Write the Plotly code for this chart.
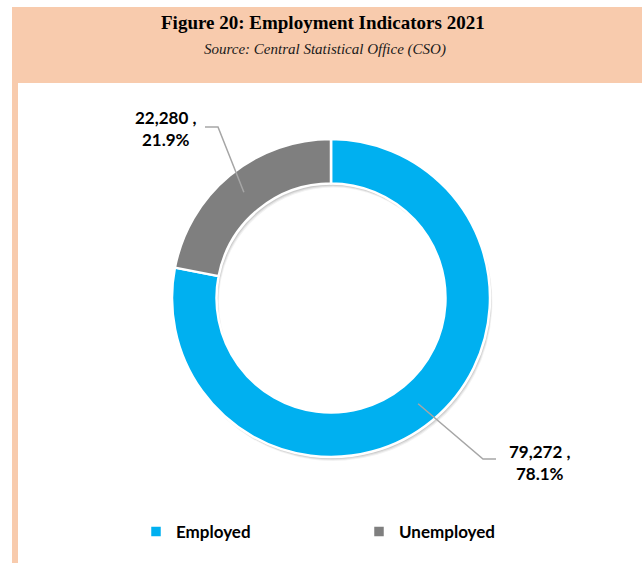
import math
import plotly.graph_objects as go

# Employment indicators, 2021
labels = ["Employed", "Unemployed"]
values = [79272, 22280]
colors = ["#00B0F0", "#7F7F7F"]
label_text = ["79,272 ,<br>78.1%", "22,280 ,<br>21.9%"]

W, H = 642, 563
CX, CY, R = 331, 298, 159          # donut centre and outer radius (px)
HOLE = 0.72

def px_x(x):
    return x / W

def px_y(y):
    return 1 - y / H

def dom(cx, cy):
    return dict(x=[px_x(cx - R), px_x(cx + R)], y=[px_y(cy + R), px_y(cy - R)])

fig = go.Figure()

# soft drop shadow beneath the ring
for off, op in [(4, 0.05), (3, 0.07), (2, 0.09)]:
    fig.add_trace(go.Pie(
        values=values, labels=labels, hole=HOLE, sort=False,
        direction="clockwise", rotation=0, domain=dom(CX + off * 0.6, CY + off),
        marker=dict(colors=["rgba(0,0,0,%s)" % op] * len(values), line=dict(width=0)),
        textinfo="none", hoverinfo="skip", showlegend=False,
    ))

fig.add_trace(go.Pie(
    values=values, labels=labels, hole=HOLE, sort=False,
    direction="clockwise", rotation=0, domain=dom(CX, CY),
    marker=dict(colors=colors, line=dict(color="white", width=2.5)),
    textinfo="none", hoverinfo="label+value+percent",
))

# header band and left rule
shapes = [
    dict(type="rect", xref="paper", yref="paper", x0=px_x(12), x1=px_x(W + 2),
         y0=px_y(83), y1=px_y(7), fillcolor="#F8CBAD", line=dict(width=0), layer="below"),
    dict(type="rect", xref="paper", yref="paper", x0=px_x(12), x1=px_x(18),
         y0=px_y(H + 2), y1=px_y(83), fillcolor="#F8CBAD", line=dict(width=0), layer="below"),
]

# leader lines from each slice's mid-angle to its label
total = sum(values)
elbows = [((483, 459), (496, 459)), ((218, 127), (205, 127))]
label_pos = [(539, 462), (166, 129)]
r_anchor = 137
cum = 0
annotations = []
for i, v in enumerate(values):
    mid = (cum + v / 2) / total * 2 * math.pi
    cum += v
    sx = CX + r_anchor * math.sin(mid)
    sy = CY - r_anchor * math.cos(mid)
    (ex, ey), (tx, ty) = elbows[i]
    path = "M %f,%f L %f,%f L %f,%f" % (px_x(sx), px_y(sy), px_x(ex), px_y(ey), px_x(tx), px_y(ty))
    shapes.append(dict(type="path", xref="paper", yref="paper", path=path,
                       line=dict(color="#A6A6A6", width=1.5)))
    lx, ly = label_pos[i]
    annotations.append(dict(
        x=px_x(lx), y=px_y(ly), xref="paper", yref="paper", showarrow=False,
        xanchor="center", yanchor="middle",
        text="<b>%s</b>" % label_text[i], align="center",
        font=dict(family="Lato, Carlito, sans-serif", size=17, color="#000000"),
    ))

annotations += [
    dict(x=px_x(323), y=px_y(23), xref="paper", yref="paper", showarrow=False,
         xanchor="center", yanchor="middle",
         text="<b>Figure 20: Employment Indicators 2021</b>",
         font=dict(family="Liberation Serif, serif", size=19, color="#000000")),
    dict(x=px_x(325), y=px_y(49), xref="paper", yref="paper", showarrow=False,
         xanchor="center", yanchor="middle",
         text="<i>Source: Central Statistical Office (CSO)</i>",
         font=dict(family="Liberation Serif, serif", size=15, color="#1a1a1a")),
]

fig.update_layout(
    width=W, height=H,
    margin=dict(l=0, r=0, t=0, b=0),
    paper_bgcolor="white", plot_bgcolor="white",
    shapes=shapes, annotations=annotations,
    legend=dict(
        orientation="h", x=px_x(136), y=px_y(532), xanchor="left", yanchor="middle",
        entrywidth=178, entrywidthmode="pixels",
        font=dict(family="Lato, Carlito, sans-serif", size=17, color="#000000",
                  weight="bold"),
        itemclick=False, itemdoubleclick=False,
    ),
)

fig.write_html("out.html")
